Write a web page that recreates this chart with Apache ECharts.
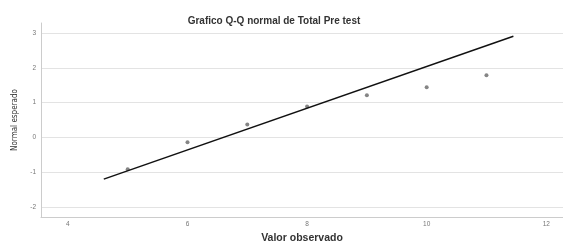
<!DOCTYPE html>
<html>
<head>
<meta charset="utf-8">
<script src="https://cdn.jsdelivr.net/npm/echarts@6/dist/echarts.min.js"></script>
<style>
  html, body { margin: 0; padding: 0; background: #fff; }
  #main { width: 563px; height: 242px; }
</style>
</head>
<body>
<div id="main"></div>
<script>
// valores observados y normal esperado
var observado = [5, 6, 7, 8, 9, 10, 11];
var esperado = [-0.92, -0.14, 0.37, 0.89, 1.21, 1.44, 1.79];
// recta de referencia
var rectaX = [4.6, 11.45];
var rectaY = [-1.2, 2.91];

var puntos = observado.map(function (v, i) { return [v, esperado[i]]; });
var recta = rectaX.map(function (v, i) { return [v, rectaY[i]]; });

var myChart = echarts.init(document.getElementById("main"));
myChart.setOption({
  animation: false,
  title: {
    text: "Grafico Q-Q normal de Total Pre test",
    left: 269, top: 11, textAlign: "center",
    textStyle: { fontFamily: "Liberation Sans", fontSize: 10, fontWeight: "bold", color: "#333" }
  },
  grid: { left: 41, right: 0, top: 23, bottom: 25, outerBoundsMode: "none", containLabel: false },
  xAxis: {
    type: "value", min: 3.55, max: 12.28, splitNumber: 4,
    name: "Valor observado", nameLocation: "middle", nameGap: 14,
    nameTextStyle: { fontFamily: "Liberation Sans", fontSize: 10.5, fontWeight: "bold", color: "#333" },
    axisLine: { onZero: false, lineStyle: { color: "#ccc" } },
    axisTick: { show: false },
    axisLabel: { fontSize: 6.5, color: "#777", margin: 4, showMinLabel: false, showMaxLabel: false },
    splitLine: { show: false }
  },
  yAxis: {
    type: "value", min: -2.29, max: 3.29, splitNumber: 5,
    name: "Normal esperado", nameLocation: "middle", nameGap: 22,
    nameTextStyle: { fontFamily: "DejaVu Sans Condensed", fontSize: 8, color: "#333" },
    axisLine: { show: true, onZero: false, lineStyle: { color: "#ccc" } },
    axisTick: { show: false },
    axisLabel: { fontSize: 6.5, color: "#777", margin: 5, showMinLabel: false, showMaxLabel: false },
    splitLine: { show: true, showMinLine: false, showMaxLine: false, lineStyle: { color: "#e3e3e3" } }
  },
  series: [
    {
      type: "line", data: recta, symbol: "none",
      lineStyle: { color: "#111", width: 1.5 }
    },
    {
      type: "scatter", data: puntos, symbolSize: 4,
      itemStyle: { color: "#666" }
    }
  ]
});
</script>
</body>
</html>
